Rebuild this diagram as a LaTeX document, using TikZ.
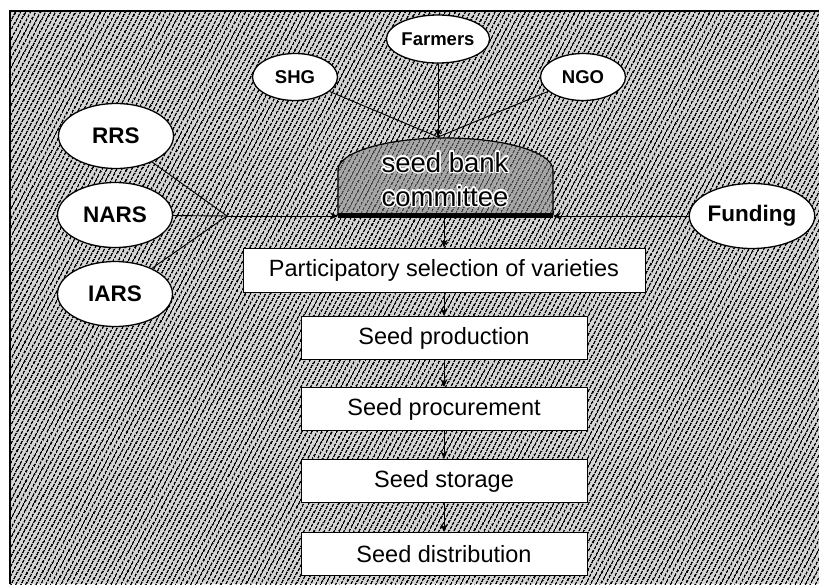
\documentclass[tikz,border=0pt]{standalone}
\usepackage{fontspec}
\setmainfont{Liberation Sans}
\usepackage{contour}
\contourlength{1.3pt}
\contournumber{16}
\usetikzlibrary{patterns.meta,arrows.meta,shapes.geometric}
\begin{document}
\begin{tikzpicture}[x=1pt,y=-1pt,
  oval/.style={ellipse, draw=black, line width=1.3pt, fill=white, inner sep=0pt},
  bigoval/.style={oval, minimum width=115pt, minimum height=65pt, font=\fontsize{22.5}{26}\selectfont\bfseries},
  smalloval/.style={oval, minimum width=85pt, minimum height=47pt, font=\fontsize{18.5}{22}\selectfont\bfseries},
  stepbox/.style={rectangle, draw=black, line width=0.9pt, fill=white, inner sep=0pt, minimum height=43pt, font=\fontsize{23.5}{27}\selectfont},
  conn/.style={line width=0.9pt},
  arr/.style={line width=0.9pt, -{Stealth[length=8pt,width=7pt]}},
  hatch/.style={pattern={Lines[angle=62,distance=4pt,line width=1.6pt]}, pattern color=black},
  domehatch/.style={pattern={Lines[angle=62,distance=4pt,line width=1.5pt]}, pattern color=black!80}
]
\useasboundingbox (0,0) rectangle (819,584);
% background
\fill[gray!32] (10,11) rectangle (819,584);
\fill[hatch] (10,11) rectangle (819,584);
\draw[line width=2.5pt] (10,584) -- (10,11) -- (819,11);

% dome
\fill[gray!70] (338,215) -- (338,170) .. controls (338,152.3) and (386.1,138) .. (445.5,138) .. controls (504.9,138) and (553,152.3) .. (553,170) -- (553,215) -- cycle;
\fill[domehatch] (338,215) -- (338,170) .. controls (338,152.3) and (386.1,138) .. (445.5,138) .. controls (504.9,138) and (553,152.3) .. (553,170) -- (553,215) -- cycle;
\draw[line width=1.2pt] (338,215) -- (338,170) .. controls (338,152.3) and (386.1,138) .. (445.5,138) .. controls (504.9,138) and (553,152.3) .. (553,170) -- (553,215);
\draw[line width=5pt] (338,215) -- (553,215);
\node[font=\fontsize{27.5}{34}\selectfont, align=center, inner sep=0pt] (committee) at (445,180) {\contour{white}{seed bank}\\\contour{white}{committee}};

\coordinate (barL) at (338,216);
\coordinate (barR) at (553,216);
\coordinate (domeTop) at (438,137);
\coordinate (domeBot) at (444,218);
\coordinate (J) at (227,216);

% top nodes
\node[smalloval, minimum width=83pt, minimum height=48pt] (farmers) at (438,39) {Farmers};
\node[smalloval] (shg) at (295,77) {SHG};
\node[smalloval] (ngo) at (583,77) {NGO};

% left nodes
\node[bigoval] (rrs) at (116,136) {RRS};
\node[bigoval] (nars) at (115,215) {NARS};
\node[bigoval] (iars) at (115,294) {IARS};
\node[bigoval, minimum width=111pt] (funding) at (752,216) {Funding};

% boxes
\node[stepbox, minimum width=402pt, minimum height=44pt] (psv) at (444,270) {Participatory selection of varieties};
\node[stepbox, minimum width=286pt] (prod) at (444,338) {Seed production};
\node[stepbox, minimum width=286pt] (proc) at (444,409) {Seed procurement};
\node[stepbox, minimum width=286pt] (stor) at (444,481) {Seed storage};
\node[stepbox, minimum width=286pt] (dist) at (444,554) {Seed distribution};

% connectors
\draw[conn] (shg) -- (domeTop);
\draw[conn] (ngo) -- (domeTop);
\draw[arr] (farmers) -- (domeTop);
\draw[conn] (rrs) -- (J);
\draw[conn] (iars) -- (J);
\draw[conn] (nars) -- (J);
\draw[arr] (J) -- (barL);
\draw[arr] (funding) -- (barR);
\draw[arr] (domeBot) -- (psv);
\draw[arr] (psv) -- (prod);
\draw[arr] (prod) -- (proc);
\draw[arr] (proc) -- (stor);
\draw[arr] (stor) -- (dist);
\end{tikzpicture}
\end{document}
